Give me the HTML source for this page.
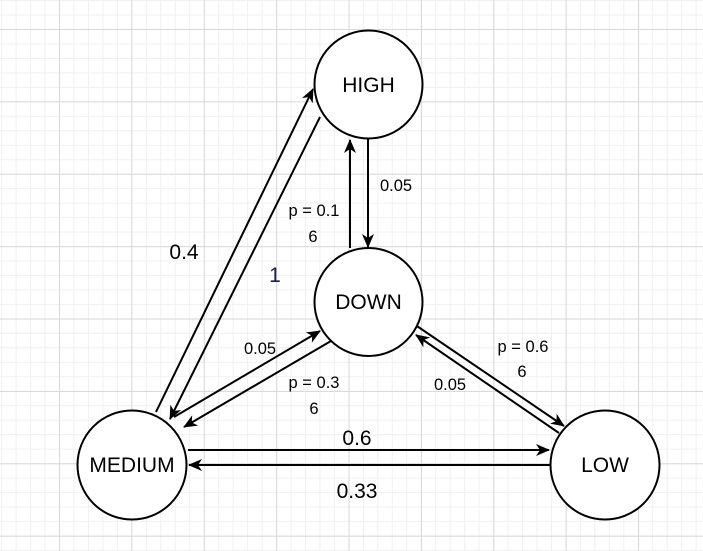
<!DOCTYPE html>
<html><head><meta charset="utf-8"><style>
html,body{margin:0;padding:0;background:#fff;}
body{width:703px;height:551px;overflow:hidden;position:relative;
background-image:
linear-gradient(to right,#d9d9d9 1px,transparent 1px),
linear-gradient(to bottom,#d9d9d9 1px,transparent 1px),
linear-gradient(to right,#f0f0f0 1px,transparent 1px),
linear-gradient(to bottom,#f0f0f0 1px,transparent 1px);
background-size:72.4px 72.4px,72.4px 72.4px,14.48px 14.48px,14.48px 14.48px;
background-position:59px 29px,59px 29px,59px 29px,59px 29px;}
svg{position:absolute;left:0;top:0;}
text{font-family:"Liberation Sans",sans-serif;}
</style></head><body>
<svg width="703" height="551" viewBox="0 0 703 551">
<defs>
<marker id="b" viewBox="0 0 14 12" markerWidth="14" markerHeight="12" refX="13" refY="6" orient="auto" markerUnits="userSpaceOnUse">
<path d="M0,0 L14,6 L0,12 L4,6 Z" fill="#000"/></marker></defs>
<g stroke="#000" stroke-width="2" fill="none">
<line x1="156" y1="412" x2="313" y2="89" marker-end="url(#b)"/>
<line x1="320" y1="117" x2="170" y2="419" marker-end="url(#b)"/>
<line x1="368" y1="139" x2="368" y2="247" marker-end="url(#b)"/>
<line x1="350" y1="248" x2="350" y2="140" marker-end="url(#b)"/>
<line x1="174" y1="417" x2="320" y2="331" marker-end="url(#b)"/>
<line x1="331" y1="341" x2="184" y2="427" marker-end="url(#b)"/>
<line x1="411" y1="322" x2="564" y2="426" marker-end="url(#b)"/>
<line x1="559" y1="433" x2="416" y2="335" marker-end="url(#b)"/>
<line x1="188" y1="450" x2="549" y2="450" marker-end="url(#b)"/>
<line x1="550" y1="465" x2="189" y2="465" marker-end="url(#b)"/>
</g>
<g stroke="#000" stroke-width="2" fill="#fff">
<circle cx="368.5" cy="84.5" r="54"/>
<circle cx="368.5" cy="302" r="54"/>
<circle cx="132" cy="465" r="54.5"/>
<circle cx="605" cy="465" r="54.5"/>
</g>
<g font-size="21" text-anchor="middle" fill="#000">
<text x="368.5" y="92">HIGH</text>
<text x="368.5" y="309">DOWN</text>
<text x="132" y="472">MEDIUM</text>
<text x="605" y="472">LOW</text>
</g>
<g font-size="21" text-anchor="middle" fill="#000">
<text x="184" y="259">0.4</text>
<text x="275" y="282" fill="#1a1a5a">1</text>
<text x="357" y="445">0.6</text>
<text x="357" y="498">0.33</text>
</g>
<g font-size="16.5" text-anchor="middle" fill="#000">
<text x="314" y="216">p = 0.1</text>
<text x="313" y="242">6</text>
<text x="396" y="191">0.05</text>
<text x="260" y="354">0.05</text>
<text x="314" y="388">p = 0.3</text>
<text x="314" y="414">6</text>
<text x="523" y="352">p = 0.6</text>
<text x="522" y="377">6</text>
<text x="450" y="390">0.05</text>
</g>
</svg>
</body></html>
